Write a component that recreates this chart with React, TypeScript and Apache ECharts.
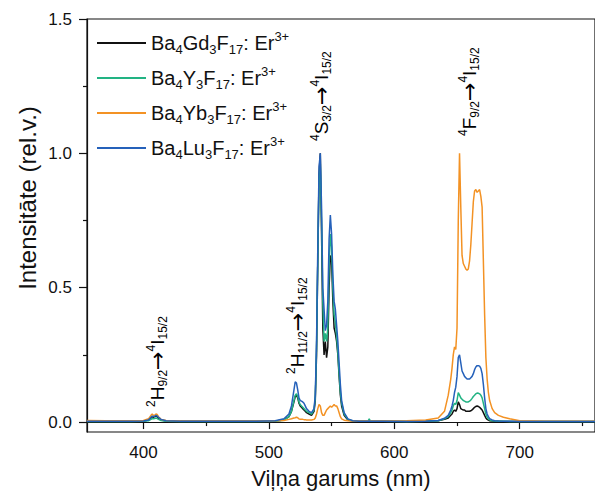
import React, { useEffect, useRef } from 'react';
import * as echarts from 'echarts';

// Wavelength grid (nm)
const wavelengths = [
  355, 370, 390, 400, 404, 406, 407, 408, 409, 410,
  411, 412, 414, 418, 430, 460, 490, 505, 512, 516,
  518, 520, 521, 522, 523, 524, 525, 526, 527, 528,
  529, 530, 532, 534, 536, 537, 538, 539, 540, 541,
  542, 543, 544, 545, 546, 547, 548, 549, 550, 551,
  552, 553, 554, 555, 556, 557, 558, 560, 563, 567,
  572, 579, 580, 581, 590, 610, 625, 635, 640, 643,
  645, 646, 647, 648, 649, 650, 651, 652, 653, 654,
  655, 656, 657, 658, 659, 660, 661, 662, 663, 664,
  665, 666, 667, 668, 669, 670, 671, 672, 673, 674,
  675, 676, 678, 680, 683, 687, 692, 700, 720, 760,
];

const gdValues = [
  0.003, 0.003, 0.003, 0.004, 0.008, 0.015, 0.02, 0.018, 0.02, 0.022,
  0.02, 0.015, 0.008, 0.004, 0.003, 0.003, 0.003, 0.004, 0.008, 0.02,
  0.04, 0.075, 0.095, 0.1, 0.09, 0.07, 0.06, 0.055, 0.05, 0.045,
  0.04, 0.035, 0.03, 0.025, 0.04, 0.08, 0.25, 0.6, 0.92, 1.0,
  0.7, 0.35, 0.25, 0.3, 0.24, 0.28, 0.5, 0.62, 0.6, 0.45,
  0.35, 0.33, 0.3, 0.25, 0.17, 0.1, 0.06, 0.025, 0.008, 0.004,
  0.003, 0.003, 0.004, 0.003, 0.003, 0.002, 0.003, 0.005, 0.01, 0.015,
  0.025, 0.03, 0.04, 0.045, 0.04, 0.05, 0.075, 0.065, 0.05, 0.047,
  0.045, 0.045, 0.04, 0.04, 0.04, 0.04, 0.042, 0.045, 0.05, 0.055,
  0.058, 0.06, 0.058, 0.055, 0.05, 0.045, 0.035, 0.025, 0.015, 0.01,
  0.007, 0.005, 0.004, 0.003, 0.003, 0.002, 0.002, 0.002, 0.002, 0.002,
];

const yValues = [
  0.002, 0.002, 0.002, 0.003, 0.005, 0.01, 0.013, 0.012, 0.013, 0.015,
  0.013, 0.01, 0.006, 0.003, 0.002, 0.002, 0.002, 0.003, 0.007, 0.02,
  0.04, 0.08, 0.1, 0.105, 0.095, 0.075, 0.065, 0.06, 0.055, 0.05,
  0.045, 0.04, 0.035, 0.03, 0.045, 0.09, 0.27, 0.6, 0.9, 0.96,
  0.75, 0.45, 0.3, 0.33, 0.3, 0.35, 0.58, 0.7, 0.65, 0.5,
  0.4, 0.37, 0.32, 0.26, 0.18, 0.11, 0.07, 0.03, 0.01, 0.004,
  0.003, 0.003, 0.012, 0.003, 0.003, 0.002, 0.003, 0.005, 0.012, 0.02,
  0.035, 0.045, 0.06, 0.07, 0.065, 0.08, 0.11, 0.1, 0.09, 0.085,
  0.08, 0.078, 0.075, 0.075, 0.075, 0.078, 0.082, 0.088, 0.095, 0.1,
  0.105, 0.108, 0.107, 0.105, 0.1, 0.09, 0.07, 0.05, 0.03, 0.018,
  0.012, 0.008, 0.005, 0.004, 0.003, 0.003, 0.002, 0.002, 0.002, 0.002,
];

const ybValues = [
  0.006, 0.005, 0.005, 0.006, 0.012, 0.025, 0.03, 0.024, 0.026, 0.03,
  0.028, 0.02, 0.01, 0.006, 0.005, 0.004, 0.004, 0.005, 0.006, 0.01,
  0.012, 0.015, 0.016, 0.018, 0.016, 0.012, 0.01, 0.01, 0.01, 0.009,
  0.009, 0.008, 0.008, 0.008, 0.01, 0.015, 0.03, 0.05, 0.065, 0.06,
  0.035, 0.025, 0.025, 0.035, 0.045, 0.05, 0.055, 0.06, 0.055, 0.06,
  0.065, 0.06, 0.06, 0.05, 0.035, 0.02, 0.012, 0.007, 0.005, 0.004,
  0.004, 0.004, 0.004, 0.004, 0.004, 0.005, 0.008, 0.015, 0.04, 0.1,
  0.16, 0.2, 0.25, 0.28, 0.27, 0.35, 0.75, 1.0, 0.8, 0.62,
  0.59, 0.58, 0.57, 0.565, 0.57, 0.6, 0.66, 0.74, 0.82, 0.86,
  0.865, 0.855, 0.86, 0.865, 0.84, 0.8, 0.6, 0.4, 0.24, 0.16,
  0.11, 0.08, 0.05, 0.035, 0.025, 0.018, 0.012, 0.005, 0.003, 0.003,
];

const luValues = [
  0.003, 0.003, 0.003, 0.004, 0.008, 0.018, 0.022, 0.02, 0.022, 0.025,
  0.022, 0.018, 0.01, 0.005, 0.003, 0.003, 0.003, 0.005, 0.012, 0.03,
  0.06, 0.12, 0.15, 0.145, 0.12, 0.09, 0.08, 0.078, 0.075, 0.07,
  0.06, 0.05, 0.04, 0.035, 0.05, 0.1, 0.3, 0.65, 0.95, 1.0,
  0.8, 0.5, 0.42, 0.34, 0.36, 0.45, 0.68, 0.77, 0.7, 0.55,
  0.45, 0.42, 0.36, 0.3, 0.22, 0.14, 0.08, 0.035, 0.012, 0.005,
  0.003, 0.003, 0.004, 0.003, 0.003, 0.002, 0.003, 0.006, 0.014, 0.025,
  0.045, 0.06, 0.08, 0.11, 0.13, 0.17, 0.24, 0.25, 0.22, 0.19,
  0.18, 0.17, 0.165, 0.16, 0.16, 0.16, 0.165, 0.17, 0.18, 0.195,
  0.205, 0.21, 0.21, 0.208, 0.2, 0.18, 0.14, 0.09, 0.05, 0.03,
  0.02, 0.013, 0.008, 0.005, 0.004, 0.003, 0.003, 0.002, 0.002, 0.002,
];

const seriesNames = ['Ba4Gd3F17: Er3+', 'Ba4Y3F17: Er3+', 'Ba4Yb3F17: Er3+', 'Ba4Lu3F17: Er3+'];
const seriesLegendRich = [
  '{m|Ba}{sub|4}{m|Gd}{sub|3}{m|F}{sub|17}{m|: Er}{sup|3+}',
  '{m|Ba}{sub|4}{m|Y}{sub|3}{m|F}{sub|17}{m|: Er}{sup|3+}',
  '{m|Ba}{sub|4}{m|Yb}{sub|3}{m|F}{sub|17}{m|: Er}{sup|3+}',
  '{m|Ba}{sub|4}{m|Lu}{sub|3}{m|F}{sub|17}{m|: Er}{sup|3+}',
];
const seriesColors = ['#111111', '#22b383', '#f39224', '#2561ba'];
const seriesValues = [gdValues, yValues, ybValues, luValues];

const xLabelValues = [400, 500, 600, 700];
const xMinorValues = [450, 550, 650, 750];
const yLabelValues = [0, 0.5, 1.0, 1.5];
const yMinorValues = [0.25, 0.75, 1.25];

const transitionLabels = [
  '{sup|2}{m|H}{sub|9/2}{a|→}{sup|4}{m|I}{sub|15/2}',
  '{sup|2}{m|H}{sub|11/2}{a|→}{sup|4}{m|I}{sub|15/2}',
  '{sup|4}{m|S}{sub|3/2}{a|→}{sup|4}{m|I}{sub|15/2}',
  '{sup|4}{m|F}{sub|9/2}{a|→}{sup|4}{m|I}{sub|15/2}',
];
const transitionAnchors = [
  [157, 407],
  [297, 374],
  [321, 141],
  [469, 136],
];

const FONT = '"Liberation Sans", Arial, sans-serif';

export default function App() {
  const ref = useRef<HTMLDivElement>(null);
  useEffect(() => {
    document.body.style.margin = '0';
    const chart = echarts.init(ref.current!, null, { renderer: 'svg' });
    const annRich = {
      m: { fontSize: 19, lineHeight: 24, fontFamily: FONT, color: '#111' },
      a: { fontSize: 22, lineHeight: 24, fontFamily: '"DejaVu Sans", sans-serif', color: '#111' },
      sub: { fontSize: 12, lineHeight: 9, verticalAlign: 'bottom', fontFamily: FONT, color: '#111' },
      sup: { fontSize: 12, lineHeight: 13, verticalAlign: 'top', fontFamily: FONT, color: '#111' },
    };
    const option: any = {
      animation: false,
      backgroundColor: '#ffffff',
      grid: { left: 87, right: -4, top: 19, bottom: 63, show: true, borderColor: '#111', borderWidth: 1.2, containLabel: false },
      legend: {
        orient: 'vertical',
        left: 92,
        top: 25,
        icon: 'rect',
        itemWidth: 49,
        itemHeight: 2,
        itemGap: 9,
        data: seriesNames,
        formatter: (name: string) => seriesLegendRich[seriesNames.indexOf(name)],
        textStyle: {
          fontFamily: FONT,
          color: '#111',
          rich: {
            m: { fontSize: 20, lineHeight: 26, fontFamily: FONT, color: '#111' },
            sub: { fontSize: 13, lineHeight: 10, verticalAlign: 'bottom', fontFamily: FONT, color: '#111' },
            sup: { fontSize: 13, lineHeight: 14, verticalAlign: 'top', fontFamily: FONT, color: '#111' },
          },
        },
      },
      xAxis: [
        {
          type: 'value',
          min: 355,
          max: 760,
          name: 'Viļņa garums (nm)',
          nameLocation: 'middle',
          nameGap: 35,
          nameTextStyle: { fontSize: 22, fontFamily: FONT, color: '#111' },
          axisLine: { show: true, lineStyle: { color: '#111', width: 1.2 } },
          axisTick: { show: true, length: 7, customValues: xLabelValues, lineStyle: { color: '#111', width: 1.2 } },
          axisLabel: { show: true, customValues: xLabelValues, fontSize: 17, fontFamily: FONT, color: '#111', margin: 12 },
          splitLine: { show: false },
        },
        {
          type: 'value',
          min: 355,
          max: 760,
          position: 'bottom',
          axisLine: { show: false },
          axisTick: { show: true, length: 4, customValues: xMinorValues, lineStyle: { color: '#111', width: 1.2 } },
          axisLabel: { show: false },
          splitLine: { show: false },
        },
      ],
      yAxis: [
        {
          type: 'value',
          min: -0.037,
          max: 1.5,
          axisLine: { show: true, lineStyle: { color: '#111', width: 1.2 } },
          axisTick: { show: true, length: 8, customValues: yLabelValues, lineStyle: { color: '#111', width: 1.2 } },
          axisLabel: {
            show: true,
            customValues: yLabelValues,
            fontSize: 17,
            fontFamily: FONT,
            color: '#111',
            margin: 15,
            formatter: (v: number) => v.toFixed(1),
          },
          splitLine: { show: false },
        },
        {
          type: 'value',
          min: -0.037,
          max: 1.5,
          position: 'left',
          axisLine: { show: false },
          axisTick: { show: true, length: 4, customValues: yMinorValues, lineStyle: { color: '#111', width: 1.2 } },
          axisLabel: { show: false },
          splitLine: { show: false },
        },
      ],
      series: seriesNames.map((name, i) => ({
        name,
        type: 'line',
        symbol: 'none',
        showSymbol: false,
        xAxisIndex: 0,
        yAxisIndex: 0,
        data: wavelengths.map((w, j) => [w, seriesValues[i][j]]),
        lineStyle: { color: seriesColors[i], width: 1.5 },
        itemStyle: { color: seriesColors[i] },
        z: 2 + i,
      })),
      graphic: [
        {
          type: 'text',
          x: 27,
          y: 198,
          rotation: Math.PI / 2,
          style: {
            text: 'Intensitāte (rel.v.)',
            fontSize: 24,
            fontFamily: FONT,
            fill: '#111',
            align: 'center',
            verticalAlign: 'middle',
          },
        },
        ...transitionLabels.map((t, i) => ({
          type: 'text',
          x: transitionAnchors[i][0],
          y: transitionAnchors[i][1],
          rotation: Math.PI / 2,
          style: {
            text: t,
            rich: annRich,
            align: 'left',
            verticalAlign: 'middle',
            fontFamily: FONT,
          },
          z: 10,
        })),
      ],
    };
    chart.setOption(option);
    return () => chart.dispose();
  }, []);
  return <div ref={ref} style={{ width: 595, height: 495 }} />;
}
